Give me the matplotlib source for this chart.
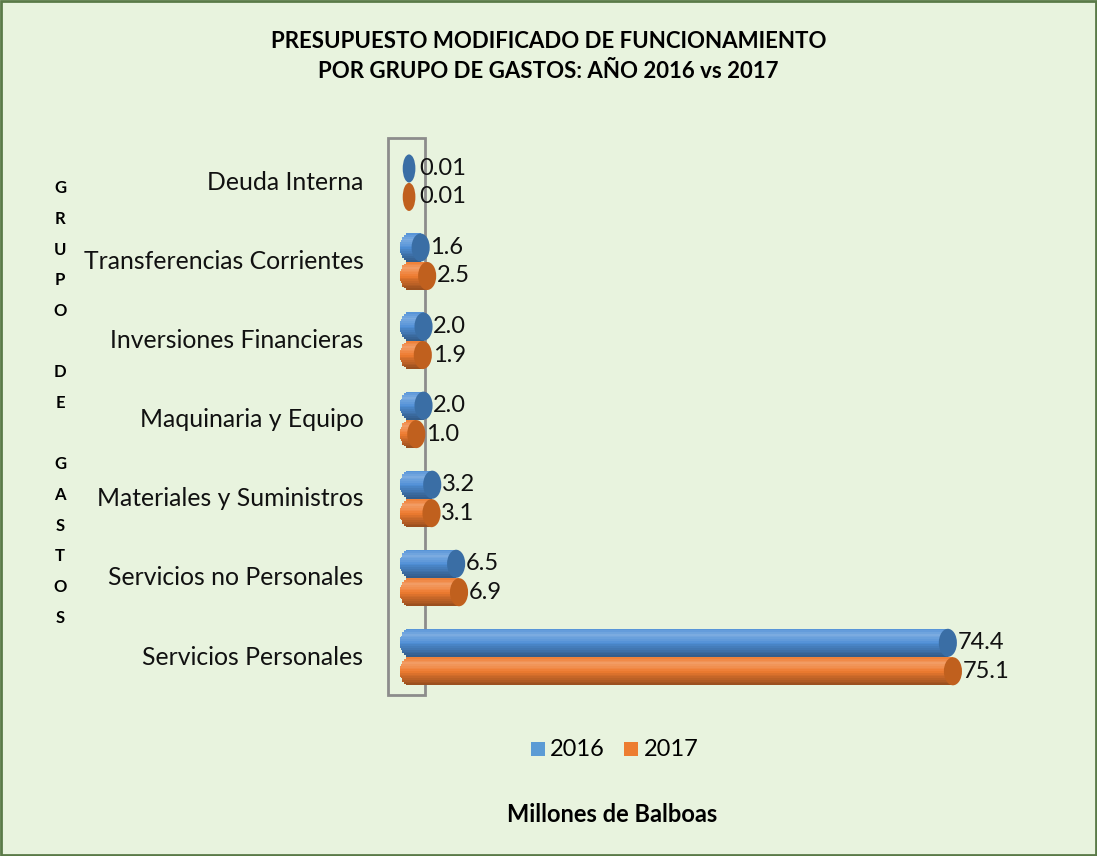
import numpy as np
import matplotlib
matplotlib.use('Agg')
import matplotlib.pyplot as plt
from matplotlib.patches import Ellipse, Rectangle
from matplotlib.colors import to_rgb

plt.rcParams['font.family'] = ['Lato', 'DejaVu Sans']

categories = ['Servicios Personales', 'Servicios no Personales', 'Materiales y Suministros',
              'Maquinaria y Equipo', 'Inversiones Financieras', 'Transferencias Corrientes',
              'Deuda Interna']
v2016 = [74.4, 6.5, 3.2, 2.0, 2.0, 1.6, 0.01]
v2017 = [75.1, 6.9, 3.1, 1.0, 1.9, 2.5, 0.01]
labels2016 = ['74.4', '6.5', '3.2', '2.0', '2.0', '1.6', '0.01']
labels2017 = ['75.1', '6.9', '3.1', '1.0', '1.9', '2.5', '0.01']

bg = '#E8F3DE'
fig = plt.figure(figsize=(10.97, 8.56), dpi=100, facecolor=bg)
W, H = 1097, 856

ax = fig.add_axes([400 / W, 1 - 695 / H, 600 / W, 555 / H])
ax.set_facecolor('none')
ax.set_xlim(-1.25, 81.6)
ax.set_ylim(-0.48, 6.54)
ax.axis('off')

bar_h = 0.355
cap_w = 2.5


def shade(c, f):
    r, g, b = to_rgb(c)
    if f >= 0:
        return (r + (1 - r) * f, g + (1 - g) * f, b + (1 - b) * f)
    return (r * (1 + f), g * (1 + f), b * (1 + f))


def cylinder(y, val, base, cap):
    n = 16
    prof = np.interp(np.linspace(0, 1, n), [0, 0.2, 0.4, 0.6, 1.0], [0.05, 0.25, 0.1, -0.08, -0.35])
    if val > 0.1:
        for i in range(n):
            dy = (i + 0.5) / n * 2 - 1
            xl = -(cap_w / 2) * np.sqrt(max(1 - dy ** 2, 0))
            yy = y + bar_h / 2 - (i + 0.5) * bar_h / n
            ax.barh(yy, val - xl, height=bar_h / n + 0.002, left=xl, color=shade(base, prof[i]),
                    lw=0, zorder=3)
        ax.add_patch(Ellipse((val, y), cap_w, bar_h, color=cap, zorder=4, lw=0))
    else:
        ax.add_patch(Ellipse((0, y), cap_w * 0.7, bar_h, color=cap, zorder=4, lw=0))


idx = np.arange(len(categories))
for i in idx:
    cylinder(i + 0.18, v2016[i], '#4F8FD6', '#3A6EA5')
    cylinder(i - 0.18, v2017[i], '#EE7B30', '#C0601E')
    ax.text(max(v2016[i], 0) + cap_w / 2 + 0.1, i + 0.18, labels2016[i], fontsize=17,
            va='center', ha='left', color='#111111')
    ax.text(max(v2017[i], 0) + cap_w / 2 + 0.1, i - 0.18, labels2017[i], fontsize=17,
            va='center', ha='left', color='#111111')
    ax.text(-6.3, i, categories[i], fontsize=17.8, va='center', ha='right', color='#111111')

# axis wall frame (behind the bars)
fig.add_artist(Rectangle((388 / W, 1 - 695 / H), 37 / W, 557 / H, transform=fig.transFigure,
                         fill=False, ec='#8C8C8C', lw=2, zorder=-1))

fig.text(0.5, 1 - 42 / H, 'PRESUPUESTO MODIFICADO DE FUNCIONAMIENTO', ha='center', va='center',
         fontsize=16, fontweight='bold')
fig.text(0.5, 1 - 72 / H, 'POR GRUPO DE GASTOS: AÑO 2016 vs 2017', ha='center', va='center',
         fontsize=16, fontweight='bold')
fig.text(612 / W, 1 - 815 / H, 'Millones de Balboas', ha='center', va='center',
         fontsize=17, fontweight='bold')

vert = list('GRUPO') + [''] + list('DE') + [''] + list('GASTOS')
fig.text(60 / W, 1 - 403 / H, '\n'.join(vert), ha='center', va='center', fontsize=12,
         fontweight='bold', linespacing=2.13)

# legend
fig.add_artist(Rectangle((531 / W, 1 - 756 / H), 14 / W, 14 / H, transform=fig.transFigure,
                         color='#5B9BD5', lw=0))
fig.text(550 / W, 1 - 749 / H, '2016', fontsize=17, va='center', ha='left')
fig.add_artist(Rectangle((624 / W, 1 - 756 / H), 14 / W, 14 / H, transform=fig.transFigure,
                         color='#ED7D31', lw=0))
fig.text(644 / W, 1 - 749 / H, '2017', fontsize=17, va='center', ha='left')

fig.add_artist(Rectangle((1 / W, 1 / H), (W - 2) / W, (H - 2) / H, transform=fig.transFigure,
                         fill=False, ec='#5A7A48', lw=2))

fig.savefig('out.png', dpi=100, facecolor=bg)
